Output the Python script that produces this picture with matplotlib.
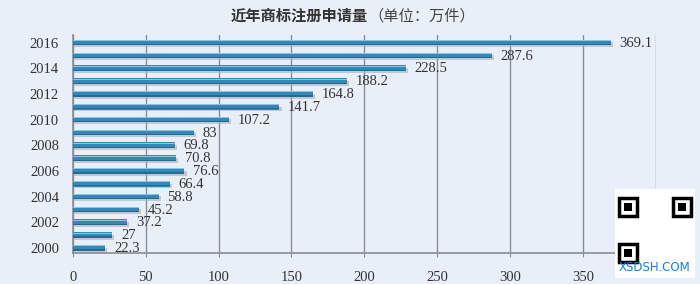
import matplotlib.pyplot as plt
from matplotlib.patches import Rectangle

# data
years = [2000, 2001, 2002, 2003, 2004, 2005, 2006, 2007, 2008,
         2009, 2010, 2011, 2012, 2013, 2014, 2015, 2016]
values = [22.3, 27, 37.2, 45.2, 58.8, 66.4, 76.6, 70.8, 69.8,
          83, 107.2, 141.7, 164.8, 188.2, 228.5, 287.6, 369.1]
year_ticks = [2000, 2002, 2004, 2006, 2008, 2010, 2012, 2014, 2016]
x_ticks = [0, 50, 100, 150, 200, 250, 300, 350, 400]
title = "近年商标注册申请量"
title_unit = "（单位：万件）"

bg = "#e9eff9"
serif = ["Liberation Serif", "DejaVu Serif"]
cjk = ["Noto Sans CJK SC", "DejaVu Sans"]

fig = plt.figure(figsize=(7, 2.84), dpi=100, facecolor=bg)
ax = fig.add_axes([0.104, 0.109, 0.833, 0.768], facecolor=bg)

pos = list(range(len(years)))

# shadow, bar, dark lower edge, light upper edge
ax.barh([p - 0.17 for p in pos], [v + 1.5 for v in values], height=0.38,
        color="#a9aeb8", alpha=0.6, zorder=2)
ax.barh(pos, values, height=0.44, color="#3388b8", zorder=3)
ax.barh([p - 0.16 for p in pos], values, height=0.1, color="#25698f", zorder=4)
ax.barh([p + 0.16 for p in pos], values, height=0.08, color="#8ac6e6", zorder=4)

for p, v in zip(pos, values):
    ax.text(v + 6, p - 0.05, f"{v:g}", fontsize=10.5, family=serif,
            color="#333333", va="center", ha="left", zorder=5)

ax.set_xlim(0, 400)
ax.set_ylim(-0.4, 16.6)
ax.set_xticks(x_ticks)
ax.set_xticklabels([str(t) for t in x_ticks[:-1]] + [""])
ax.set_yticks([years.index(y) for y in year_ticks])
ax.set_yticklabels([str(y) for y in year_ticks])

for lab in ax.get_xticklabels() + ax.get_yticklabels():
    lab.set_family(serif)
    lab.set_fontsize(10.5)
    lab.set_color("#333333")

ax.grid(axis="x", color="#8a8d93", linewidth=1.0, zorder=1)
ax.tick_params(axis="x", length=3, color="#8a8d93", pad=10)
ax.tick_params(axis="y", length=0, pad=10)
for side in ["top", "right"]:
    ax.spines[side].set_visible(False)
for side in ["left", "bottom"]:
    ax.spines[side].set_color("#8a8d93")
    ax.spines[side].set_linewidth(1.2)

fig.text(368 / 700, 0.945, title, ha="right", va="center", fontsize=11,
         family=cjk, fontweight="bold", color="#333333")
fig.text(368 / 700, 0.945, title_unit, ha="left", va="center", fontsize=11,
         family=cjk, color="#444444")

# watermark block in the lower right corner
fig.patches.append(Rectangle((615 / 700, 6 / 284), 80 / 700, 89 / 284,
                             transform=fig.transFigure, facecolor="white",
                             edgecolor="none", zorder=10))
for fx, fy in [(619, 68), (673, 68), (619, 22)]:
    fig.patches.append(Rectangle((fx / 700, fy / 284), 18 / 700, 18 / 284,
                                 transform=fig.transFigure, facecolor="white",
                                 edgecolor="black", linewidth=2.5, zorder=11))
    fig.patches.append(Rectangle(((fx + 5) / 700, (fy + 5) / 284), 8 / 700, 8 / 284,
                                 transform=fig.transFigure, facecolor="black",
                                 edgecolor="none", zorder=11))
fig.text(655 / 700, 10 / 284, "XSDSH.COM", ha="center", va="bottom",
         fontsize=8.5, color="#1a7fe0", zorder=12)

fig.savefig("out.png", dpi=100, facecolor=bg)
